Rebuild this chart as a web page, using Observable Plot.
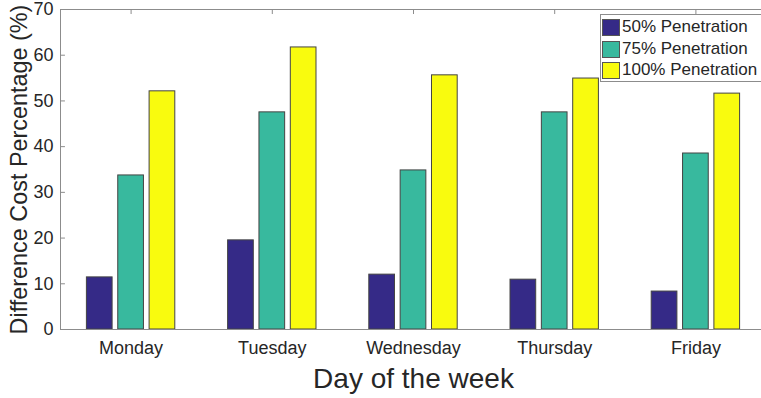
<!DOCTYPE html>
<html>
<head>
<meta charset="utf-8">
<script src="https://cdn.jsdelivr.net/npm/d3@7"></script>
<script src="https://cdn.jsdelivr.net/npm/@observablehq/plot@0.6"></script>
<style>
  html, body { margin: 0; padding: 0; background: #fff; overflow: hidden; }
  #wrap { position: relative; width: 761px; height: 398px; overflow: hidden; }
  #wrap svg { overflow: hidden; }
  #legend {
    position: absolute; left: 600px; top: 14px; width: 170px; height: 68px;
    border: 1px solid #8c8c8c; background: #fff; box-sizing: border-box;
    font-family: "Liberation Sans", Arial, sans-serif; font-size: 17px; color: #262626;
  }
  .row { position: absolute; left: 1px; height: 18px; display: flex; align-items: center; white-space: nowrap; }
  .sw { width: 18px; height: 17px; box-sizing: border-box; border: 1px solid #555; margin-right: 2px; }
</style>
</head>
<body>
<div id="wrap"></div>
<script>
const days = ["Monday", "Tuesday", "Wednesday", "Thursday", "Friday"];
const seriesNames = ["50% Penetration", "75% Penetration", "100% Penetration"];
const p50 = [11.4, 19.5, 12.0, 10.9, 8.3];
const p75 = [33.7, 47.5, 34.8, 47.5, 38.5];
const p100 = [52.1, 61.7, 55.6, 54.9, 51.6];
const colors = ["#352a87", "#38b99e", "#f9fb0e"];
const yTicks = [0, 10, 20, 30, 40, 50, 60, 70];
const xTicks = [1, 2, 3, 4, 5];

const offsets = [-0.222, 0, 0.222];
const halfW = 0.091;
const seriesValues = [p50, p75, p100];
const rows = [];
seriesValues.forEach((vals, k) => vals.forEach((v, i) => rows.push({pos: i + 1, k, value: v})));

const grid = "#8c8c8c";
const txt = "#262626";
const font = "Liberation Sans, Arial, sans-serif";
const tickLenY = 1.1;   // data units (~5px)
const tickLenX = 0.035; // data units (~5px)

const chart = Plot.plot({
  width: 761,
  height: 398,
  marginLeft: 60,
  marginRight: 0,
  marginTop: 9,
  marginBottom: 69,
  style: {fontFamily: font, background: "white"},
  x: {domain: [0.5, 5.5], range: [60, 766], axis: null},
  y: {domain: [0, 70], range: [329, 9], axis: null},
  marks: [
    Plot.rectY(rows, {
      x1: d => d.pos + offsets[d.k] - halfW,
      x2: d => d.pos + offsets[d.k] + halfW,
      y1: 0,
      y2: "value",
      fill: d => colors[d.k],
      stroke: "#444",
      strokeWidth: 1
    }),
    Plot.ruleY([0, 70], {x1: 0.5, x2: 5.5, stroke: grid}),
    Plot.ruleX([0.5, 5.5], {y1: 0, y2: 70, stroke: grid}),
    Plot.ruleY(yTicks.filter(t => t > 0 && t < 70), {x1: 0.5, x2: 0.5 + tickLenX, stroke: grid}),
    Plot.ruleY(yTicks.filter(t => t > 0 && t < 70), {x1: 5.5 - tickLenX, x2: 5.5, stroke: grid}),
    Plot.ruleX(xTicks, {y1: 70, y2: 70 - tickLenY, stroke: grid}),
    Plot.text(yTicks, {x: 0.5, y: d => d, text: d => String(d), dx: -7, textAnchor: "end", lineAnchor: "middle", fontSize: 18, fill: txt}),
    Plot.text(xTicks, {x: d => d, y: 0, text: d => days[d - 1], dy: 24, textAnchor: "middle", lineAnchor: "bottom", fontSize: 18, fill: txt}),
    Plot.text(["Difference Cost Percentage (%)"], {frameAnchor: "left", rotate: -90, dx: -34, lineAnchor: "bottom", textAnchor: "middle", fontSize: 23.4, fill: txt}),
    Plot.text(["Day of the week"], {x: 3, y: 0, dy: 58, lineAnchor: "bottom", textAnchor: "middle", fontSize: 28, fill: txt})
  ]
});

const wrap = document.getElementById("wrap");
wrap.appendChild(chart);

const legend = document.createElement("div");
legend.id = "legend";
const tops = [3, 25, 46];
seriesNames.forEach((name, k) => {
  const r = document.createElement("div");
  r.className = "row";
  r.style.top = tops[k] + "px";
  const sw = document.createElement("div");
  sw.className = "sw";
  sw.style.background = colors[k];
  const t = document.createElement("span");
  t.textContent = name;
  r.appendChild(sw);
  r.appendChild(t);
  legend.appendChild(r);
});
wrap.appendChild(legend);
</script>
</body>
</html>
